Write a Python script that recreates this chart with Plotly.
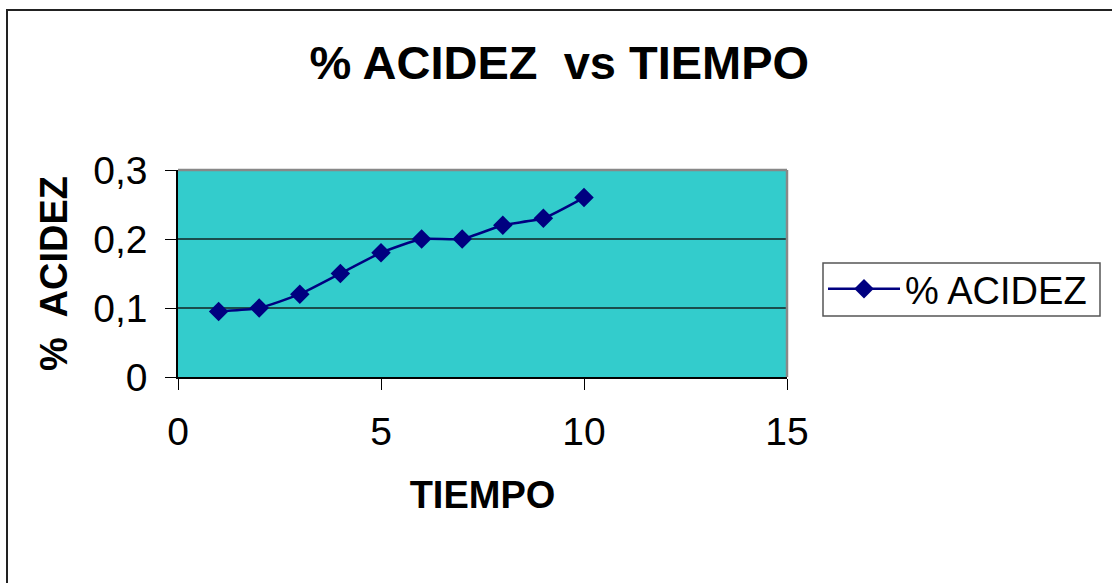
import plotly.graph_objects as go

tiempo = [1, 2, 3, 4, 5, 6, 7, 8, 9, 10]
acidez = [0.095, 0.10, 0.12, 0.15, 0.18, 0.20, 0.20, 0.22, 0.23, 0.26]
x_ticks = [0, 5, 10, 15]
y_ticks = [0, 0.1, 0.2, 0.3]
y_tick_text = ["0", "0,1", "0,2", "0,3"]

W, H = 1112, 583
L, R, T, B = 178, 787, 170, 377

fig = go.Figure()
fig.add_trace(go.Scatter(
    x=tiempo, y=acidez, mode="lines+markers", name="% ACIDEZ",
    line=dict(color="#000080", width=2.5, shape="spline", smoothing=0.5),
    marker=dict(symbol="diamond", size=15, color="#000080"),
))

def px_x(p):
    return (p - L) / (R - L)

def px_y(p):
    return (B - p) / (B - T)

fig.update_layout(
    width=W, height=H,
    margin=dict(l=L, r=W - R, t=T, b=H - B),
    paper_bgcolor="white",
    plot_bgcolor="#33CCCC",
    font=dict(family="Liberation Sans, Arial", color="black"),
    title=dict(text="<b>% ACIDEZ  vs TIEMPO</b>", x=0.503, xanchor="center",
               y=1 - 63 / H, yanchor="middle", font=dict(size=47)),
    showlegend=True,
    legend=dict(x=px_x(823), y=px_y(289), xanchor="left", yanchor="middle",
                bgcolor="rgba(0,0,0,0)", borderwidth=0,
                font=dict(size=38), itemwidth=72,
                tracegroupgap=0),
    xaxis=dict(range=[0, 15], tickvals=x_ticks, ticktext=[str(v) for v in x_ticks],
               showgrid=False, zeroline=False, showline=True, linecolor="black",
               linewidth=1.5, ticks="outside", ticklen=11, tickcolor="black",
               tickfont=dict(size=39), ticklabelstandoff=8, mirror=False,
               title=dict(text="<b>TIEMPO</b>", font=dict(size=38), standoff=30)),
    yaxis=dict(range=[0, 0.3], tickvals=y_ticks, ticktext=y_tick_text,
               showgrid=True, gridcolor="#1a4d4d", gridwidth=1.5,
               zeroline=False, showline=True, linecolor="black",
               linewidth=1.5, ticks="outside", ticklen=11, tickcolor="black",
               tickfont=dict(size=39), ticklabelstandoff=10,
               title=dict(text="<b>%  ACIDEZ</b>", font=dict(size=38), standoff=14)),
)

# plot area border (gray top/right)
fig.add_shape(type="line", xref="paper", yref="paper", x0=0, x1=1, y0=1, y1=1,
              line=dict(color="#888888", width=2.5))
fig.add_shape(type="line", xref="paper", yref="paper", x0=1, x1=1, y0=0, y1=1,
              line=dict(color="#888888", width=2.5))
# legend box
fig.add_shape(type="rect", xref="paper", yref="paper",
              x0=px_x(823), x1=px_x(1100), y0=px_y(263), y1=px_y(316),
              line=dict(color="#555555", width=1.5), fillcolor="white", layer="below")
# outer chart frame
fig.add_shape(type="rect", xref="paper", yref="paper",
              x0=px_x(7), x1=px_x(1130), y0=px_y(10), y1=px_y(600),
              line=dict(color="#222222", width=2), layer="below")

fig.write_html("out.html")
